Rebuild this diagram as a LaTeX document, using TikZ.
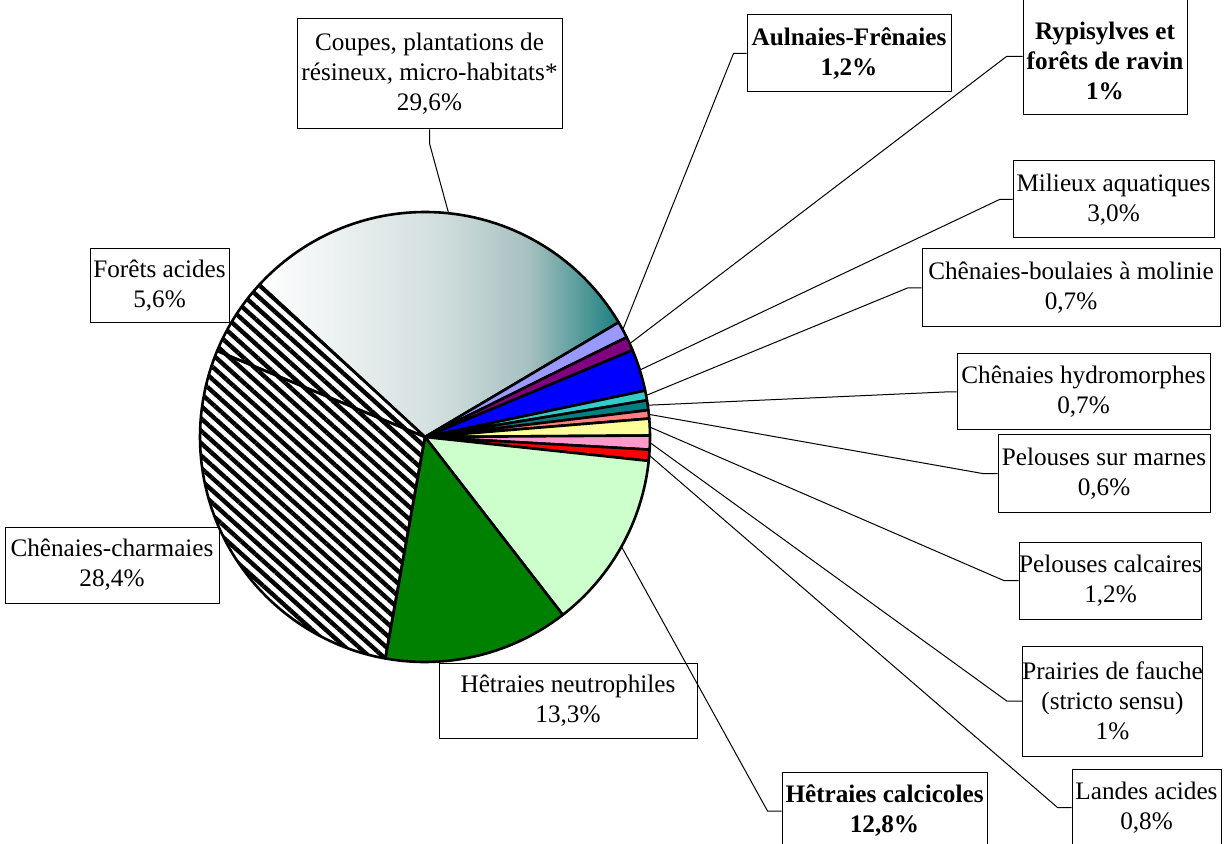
\documentclass[tikz,border=0pt]{standalone}
\usepackage{fontspec}
\setmainfont{Liberation Serif}
\usetikzlibrary{calc, patterns.meta}

\definecolor{aulcol}{HTML}{9999FF}
\definecolor{rypicol}{HTML}{800080}
\definecolor{milcol}{HTML}{0000FF}
\definecolor{boulcol}{HTML}{33CCCC}
\definecolor{hydrocol}{HTML}{008080}
\definecolor{marncol}{HTML}{FF8080}
\definecolor{calccol}{HTML}{FFFF99}
\definecolor{praicol}{HTML}{FF99CC}
\definecolor{landcol}{HTML}{FF0000}
\definecolor{calcicol}{HTML}{CCFFCC}
\definecolor{neutcol}{HTML}{008000}
\definecolor{coupesmid}{HTML}{D2DEDE}
\definecolor{coupeslight}{HTML}{A6C0C0}
\definecolor{coupesteal}{HTML}{1C8080}
\pgfdeclarehorizontalshading{coupesfill}{100bp}{color(0bp)=(white); color(25bp)=(white); color(50bp)=(coupesmid); color(62.5bp)=(coupeslight); color(75bp)=(coupesteal); color(100bp)=(coupesteal)}

\begin{document}
\begin{tikzpicture}[x=0.5pt, y=-0.5pt, font=\fontsize{12.6}{15}\selectfont]
            \tikzset{slice/.style = {draw=black, line width=1.3pt, line join=round}}
            \tikzset{stripes/.style = {slice, pattern={Lines[angle=-42, distance=4.6pt, line width=2.2pt]}}}
            \tikzset{lbl/.style = {draw=black, line width=0.5pt, align=center, inner sep=0pt}}
            \tikzset{blbl/.style = {lbl, font=\fontsize{12.6}{15}\selectfont\bfseries}}
            \tikzset{leader/.style = {draw=black, line width=0.5pt}}

            \useasboundingbox (0,0) rectangle (1231,844);

            \coordinate (c) at (425,437);

            \draw[slice, shading=coupesfill] (c) -- ($(c)+(-137.32:225)$) arc (-137.32:-30.63:225) -- cycle;
            \draw[slice, fill=aulcol] (c) -- ($(c)+(-30.63:225)$) arc (-30.63:-26.31:225) -- cycle;
            \draw[slice, fill=rypicol] (c) -- ($(c)+(-26.31:225)$) arc (-26.31:-22.71:225) -- cycle;
            \draw[slice, fill=milcol] (c) -- ($(c)+(-22.71:225)$) arc (-22.71:-11.90:225) -- cycle;
            \draw[slice, fill=boulcol] (c) -- ($(c)+(-11.90:225)$) arc (-11.90:-9.38:225) -- cycle;
            \draw[slice, fill=hydrocol] (c) -- ($(c)+(-9.38:225)$) arc (-9.38:-6.86:225) -- cycle;
            \draw[slice, fill=marncol] (c) -- ($(c)+(-6.86:225)$) arc (-6.86:-4.70:225) -- cycle;
            \draw[slice, fill=calccol] (c) -- ($(c)+(-4.70:225)$) arc (-4.70:-0.38:225) -- cycle;
            \draw[slice, fill=praicol] (c) -- ($(c)+(-0.38:225)$) arc (-0.38:3.22:225) -- cycle;
            \draw[slice, fill=landcol] (c) -- ($(c)+(3.22:225)$) arc (3.22:6.10:225) -- cycle;
            \draw[slice, fill=calcicol] (c) -- ($(c)+(6.10:225)$) arc (6.10:52.23:225) -- cycle;
            \draw[slice, fill=neutcol] (c) -- ($(c)+(52.23:225)$) arc (52.23:100.16:225) -- cycle;
            \draw[stripes] (c) -- ($(c)+(100.16:225)$) arc (100.16:202.50:225) -- cycle;
            \draw[stripes] (c) -- ($(c)+(202.50:225)$) arc (202.50:222.68:225) -- cycle;

            \coordinate (pcoupes) at ($(c)+(-83.97:225)$);
            \coordinate (paul) at ($(c)+(-28.47:225)$);
            \coordinate (prypi) at ($(c)+(-24.51:225)$);
            \coordinate (pmil) at ($(c)+(-17.31:225)$);
            \coordinate (pboul) at ($(c)+(-10.64:225)$);
            \coordinate (phydro) at ($(c)+(-8.12:225)$);
            \coordinate (pmarn) at ($(c)+(-5.78:225)$);
            \coordinate (pcalc) at ($(c)+(-2.54:225)$);
            \coordinate (pprai) at ($(c)+(1.42:225)$);
            \coordinate (pland) at ($(c)+(4.66:225)$);
            \coordinate (pcalci) at ($(c)+(29.17:225)$);

            \node[lbl, minimum width=132.5pt, minimum height=55pt] (coupes) at (429.5,74) {Coupes, plantations de\\résineux, micro-habitats*\\29,6\%};
            \node[blbl, minimum width=102pt, minimum height=38.5pt] (aul) at (849,53.5) {Aulnaies-Frênaies\\1,2\%};
            \node[blbl, minimum width=82pt, minimum height=58.5pt] (rypi) at (1105,56.5) {\rule{0pt}{13.5pt}Rypisylves et\\forêts de ravin\\1\%};
            \node[lbl, minimum width=100.5pt, minimum height=38.5pt] (mil) at (1113.5,199.5) {Milieux aquatiques\\3,0\%};
            \node[lbl, minimum width=149pt, minimum height=39pt] (boul) at (1071,288) {Chênaies-boulaies à molinie\\0,7\%};
            \node[lbl, minimum width=126.5pt, minimum height=38pt] (hydro) at (1083.5,392) {Chênaies hydromorphes\\0,7\%};
            \node[lbl, minimum width=106pt, minimum height=38.5pt] (marn) at (1104,473.5) {Pelouses sur marnes\\0,6\%};
            \node[lbl, minimum width=90.5pt, minimum height=38.5pt] (calc) at (1110.5,580.5) {Pelouses calcaires\\1,2\%};
            \node[lbl, minimum width=87.5pt, minimum height=55pt] (prai) at (1112.5,701) {Prairies de fauche\\(stricto sensu)\\1\%};
            \node[lbl, minimum width=74.5pt, minimum height=38.5pt] (land) at (1146.5,807.5) {Landes acides\\0,8\%};
            \node[blbl, minimum width=102.5pt, minimum height=39pt] (calci) at (884.5,811) {Hêtraies calcicoles\\12,8\%};
            \node[lbl, minimum width=129pt, minimum height=37.5pt] (neut) at (568,700.5) {Hêtraies neutrophiles\\13,3\%};
            \node[lbl, minimum width=107pt, minimum height=38pt] (charm) at (112,565) {Chênaies-charmaies\\28,4\%};
            \node[lbl, minimum width=69.5pt, minimum height=37pt] (acid) at (159.5,286) {Forêts acides\\5,6\%};

            \draw[leader] (coupes.south) -- ++(0,14) -- (pcoupes);
            \draw[leader] (aul.west) -- ++(-13,0) -- (paul);
            \draw[leader] (rypi.west) -- ++(-16,0) -- (prypi);
            \draw[leader] (mil.west) -- ++(-13,0) -- (pmil);
            \draw[leader] (boul.west) -- ++(-14,0) -- (pboul);
            \draw[leader] (hydro.west) -- ++(-12,0) -- (phydro);
            \draw[leader] (marn.west) -- ++(-15,0) -- (pmarn);
            \draw[leader] (calc.west) -- ++(-15,0) -- (pcalc);
            \draw[leader] (prai.west) -- ++(-15,0) -- (pprai);
            \draw[leader] (land.west) -- ++(-14,0) -- (pland);
            \draw[leader] (calci.west) -- ++(-14,0) -- (pcalci);
\end{tikzpicture}
\end{document}
